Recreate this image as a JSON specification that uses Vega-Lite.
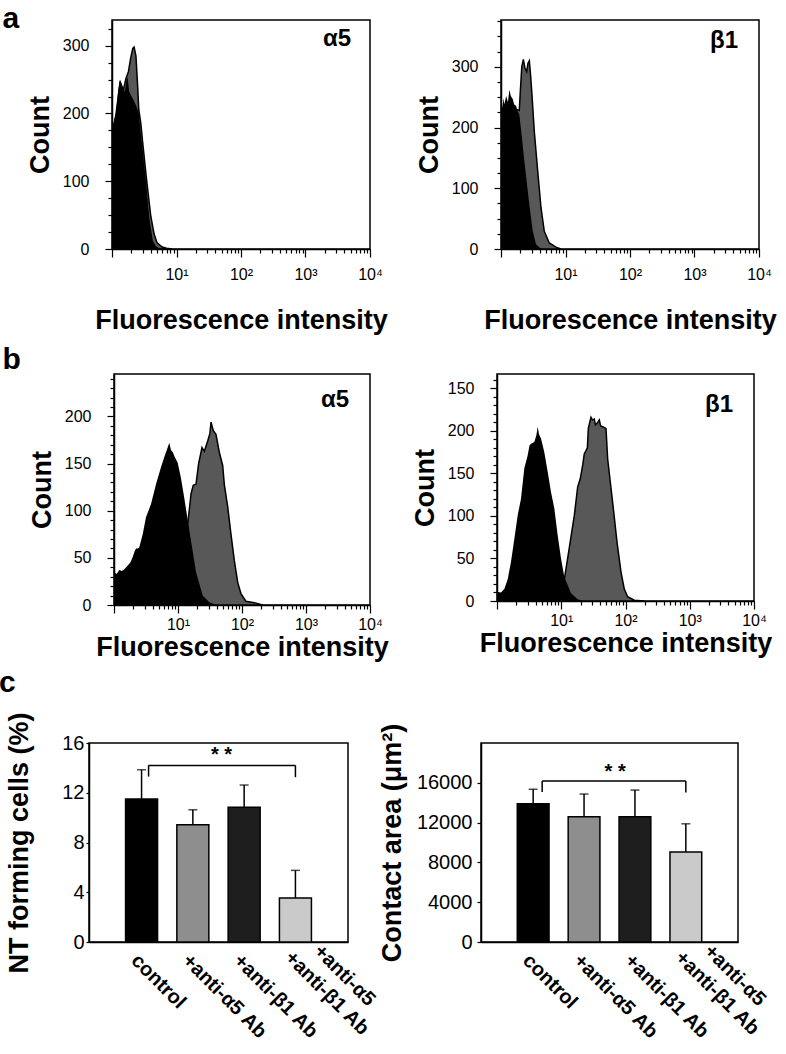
{
  "$schema": "https://vega.github.io/schema/vega-lite/v6.json",
  "background": "white",
  "padding": {"left": -1, "top": 4, "right": 0, "bottom": 0},
  "config": {
    "font": "Liberation Sans",
    "view": {"stroke": "black", "strokeWidth": 1.5},
    "axis": {"domainColor": "black", "tickColor": "black", "labelColor": "black", "titleColor": "black", "grid": false, "domainWidth": 1.5, "tickWidth": 1.2}
  },
  "datasets": {
    "aL": [
      {"s":"c","x":1.0,"n":175},{"s":"c","x":1.08,"n":190},{"s":"c","x":1.15,"n":200},{"s":"c","x":1.25,"n":235},{"s":"c","x":1.33,"n":250},{"s":"c","x":1.42,"n":244},{"s":"c","x":1.5,"n":236},{"s":"c","x":1.58,"n":232},{"s":"c","x":1.68,"n":250},{"s":"c","x":1.75,"n":253},{"s":"c","x":1.85,"n":232},{"s":"c","x":2.0,"n":226},{"s":"c","x":2.2,"n":218},{"s":"c","x":2.4,"n":210},{"s":"c","x":2.6,"n":200},{"s":"c","x":2.8,"n":170},{"s":"c","x":3.0,"n":145},{"s":"c","x":3.4,"n":95},{"s":"c","x":3.8,"n":45},{"s":"c","x":4.3,"n":12},{"s":"c","x":4.8,"n":4},{"s":"c","x":5.5,"n":1},{"s":"c","x":7,"n":0},
      {"s":"ab","x":1.0,"n":170},{"s":"ab","x":1.15,"n":198},{"s":"ab","x":1.33,"n":245},{"s":"ab","x":1.5,"n":235},{"s":"ab","x":1.65,"n":252},{"s":"ab","x":1.8,"n":262},{"s":"ab","x":1.95,"n":282},{"s":"ab","x":2.1,"n":296},{"s":"ab","x":2.2,"n":298},{"s":"ab","x":2.35,"n":285},{"s":"ab","x":2.5,"n":240},{"s":"ab","x":2.6,"n":206},{"s":"ab","x":2.8,"n":185},{"s":"ab","x":3.0,"n":156},{"s":"ab","x":3.4,"n":106},{"s":"ab","x":4.0,"n":48},{"s":"ab","x":4.5,"n":22},{"s":"ab","x":5.0,"n":9},{"s":"ab","x":6.0,"n":3},{"s":"ab","x":7.0,"n":1},{"s":"ab","x":8.5,"n":0}
    ],
    "aR": [
      {"s":"c","x":1.0,"n":245},{"s":"c","x":1.04,"n":232},{"s":"c","x":1.07,"n":240},{"s":"c","x":1.1,"n":248},{"s":"c","x":1.13,"n":238},{"s":"c","x":1.2,"n":252},{"s":"c","x":1.28,"n":242},{"s":"c","x":1.35,"n":262},{"s":"c","x":1.42,"n":252},{"s":"c","x":1.52,"n":247},{"s":"c","x":1.6,"n":238},{"s":"c","x":1.71,"n":236},{"s":"c","x":1.82,"n":226},{"s":"c","x":1.92,"n":222},{"s":"c","x":2.04,"n":198},{"s":"c","x":2.3,"n":145},{"s":"c","x":2.75,"n":73},{"s":"c","x":3.1,"n":30},{"s":"c","x":3.49,"n":8},{"s":"c","x":4.0,"n":2},{"s":"c","x":4.5,"n":0},
      {"s":"ab","x":1.0,"n":230},{"s":"ab","x":1.5,"n":232},{"s":"ab","x":1.92,"n":228},{"s":"ab","x":2.0,"n":262},{"s":"ab","x":2.1,"n":300},{"s":"ab","x":2.22,"n":312},{"s":"ab","x":2.35,"n":298},{"s":"ab","x":2.5,"n":292},{"s":"ab","x":2.62,"n":306},{"s":"ab","x":2.75,"n":310},{"s":"ab","x":2.88,"n":285},{"s":"ab","x":3.02,"n":254},{"s":"ab","x":3.28,"n":194},{"s":"ab","x":3.71,"n":128},{"s":"ab","x":4.17,"n":68},{"s":"ab","x":4.69,"n":29},{"s":"ab","x":5.61,"n":10},{"s":"ab","x":7.12,"n":3},{"s":"ab","x":8.5,"n":0}
    ],
    "bL": [
      {"s":"c","x":1.0,"n":35},{"s":"c","x":1.1,"n":33},{"s":"c","x":1.21,"n":37},{"s":"c","x":1.33,"n":36},{"s":"c","x":1.45,"n":38},{"s":"c","x":1.64,"n":42},{"s":"c","x":1.8,"n":45},{"s":"c","x":1.96,"n":51},{"s":"c","x":2.1,"n":57},{"s":"c","x":2.21,"n":60},{"s":"c","x":2.35,"n":60},{"s":"c","x":2.48,"n":61},{"s":"c","x":2.81,"n":75},{"s":"c","x":3.16,"n":93},{"s":"c","x":3.79,"n":107},{"s":"c","x":4.53,"n":128},{"s":"c","x":5.42,"n":146},{"s":"c","x":6.11,"n":157},{"s":"c","x":6.9,"n":167},{"s":"c","x":7.31,"n":172},{"s":"c","x":7.78,"n":164},{"s":"c","x":8.3,"n":162},{"s":"c","x":8.75,"n":158},{"s":"c","x":9.89,"n":151},{"s":"c","x":11.1,"n":135},{"s":"c","x":12.5,"n":114},{"s":"c","x":14.2,"n":90},{"s":"c","x":16.0,"n":68},{"s":"c","x":19.1,"n":35},{"s":"c","x":24.3,"n":10},{"s":"c","x":30.8,"n":3},{"s":"c","x":40,"n":0},
      {"s":"ab","x":5,"n":0},{"s":"ab","x":8,"n":10},{"s":"ab","x":10,"n":20},{"s":"ab","x":12.5,"n":55},{"s":"ab","x":14.2,"n":86},{"s":"ab","x":16.0,"n":118},{"s":"ab","x":17.3,"n":127},{"s":"ab","x":19.1,"n":128},{"s":"ab","x":21.0,"n":150},{"s":"ab","x":23.7,"n":167},{"s":"ab","x":25.8,"n":163},{"s":"ab","x":29.1,"n":174},{"s":"ab","x":31.5,"n":182},{"s":"ab","x":32.8,"n":194},{"s":"ab","x":35.6,"n":185},{"s":"ab","x":39.2,"n":181},{"s":"ab","x":44.2,"n":162},{"s":"ab","x":49.9,"n":148},{"s":"ab","x":52.9,"n":128},{"s":"ab","x":59.8,"n":104},{"s":"ab","x":67.3,"n":75},{"s":"ab","x":75.9,"n":47},{"s":"ab","x":85.7,"n":24},{"s":"ab","x":96.4,"n":12},{"s":"ab","x":115,"n":4},{"s":"ab","x":166,"n":2},{"s":"ab","x":210,"n":0}
    ],
    "bR": [
      {"s":"c","x":1.0,"n":11},{"s":"c","x":1.15,"n":10},{"s":"c","x":1.3,"n":14},{"s":"c","x":1.47,"n":26},{"s":"c","x":1.65,"n":46},{"s":"c","x":1.86,"n":73},{"s":"c","x":2.1,"n":101},{"s":"c","x":2.36,"n":120},{"s":"c","x":2.66,"n":156},{"s":"c","x":3.0,"n":171},{"s":"c","x":3.2,"n":183},{"s":"c","x":3.38,"n":185},{"s":"c","x":3.81,"n":187},{"s":"c","x":4.1,"n":195},{"s":"c","x":4.3,"n":205},{"s":"c","x":4.5,"n":196},{"s":"c","x":4.84,"n":191},{"s":"c","x":5.45,"n":175},{"s":"c","x":6.15,"n":152},{"s":"c","x":6.93,"n":128},{"s":"c","x":7.8,"n":109},{"s":"c","x":8.81,"n":77},{"s":"c","x":9.91,"n":50},{"s":"c","x":11.2,"n":28},{"s":"c","x":14.2,"n":9},{"s":"c","x":18.0,"n":2},{"s":"c","x":22,"n":0},
      {"s":"ab","x":6,"n":0},{"s":"ab","x":9,"n":10},{"s":"ab","x":11.2,"n":26},{"s":"ab","x":13.3,"n":62},{"s":"ab","x":16.0,"n":101},{"s":"ab","x":18.0,"n":134},{"s":"ab","x":19.8,"n":144},{"s":"ab","x":21.6,"n":160},{"s":"ab","x":22.8,"n":173},{"s":"ab","x":24.3,"n":177},{"s":"ab","x":25.5,"n":180},{"s":"ab","x":26.4,"n":203},{"s":"ab","x":29.0,"n":216},{"s":"ab","x":30.5,"n":213},{"s":"ab","x":32.7,"n":214},{"s":"ab","x":34,"n":207},{"s":"ab","x":36.0,"n":209},{"s":"ab","x":39.1,"n":213},{"s":"ab","x":41,"n":206},{"s":"ab","x":44.2,"n":205},{"s":"ab","x":49.7,"n":203},{"s":"ab","x":52.8,"n":167},{"s":"ab","x":58.0,"n":140},{"s":"ab","x":65.5,"n":105},{"s":"ab","x":73.8,"n":69},{"s":"ab","x":85.1,"n":34},{"s":"ab","x":95.8,"n":14},{"s":"ab","x":108,"n":5},{"s":"ab","x":137,"n":1},{"s":"ab","x":195,"n":0}
    ],
    "cL": [
      {"g":"control","v":11.5,"e":13.85},{"g":"+anti-α5 Ab","v":9.43,"e":10.63},{"g":"+anti-β1 Ab","v":10.83,"e":12.62},{"g":"+anti-α5|+anti-β1 Ab","v":3.54,"e":5.76}
    ],
    "cR": [
      {"g":"control","v":13900,"e":15350},{"g":"+anti-α5 Ab","v":12600,"e":14870},{"g":"+anti-β1 Ab","v":12600,"e":15270},{"g":"+anti-α5|+anti-β1 Ab","v":9050,"e":11880}
    ],
    "kL": [{"g":"control","g2":"+anti-α5|+anti-β1 Ab","y":14.2,"y0":13.3,"yr":13.25,"ys":15.0}],
    "kR": [{"g":"control","g2":"+anti-α5|+anti-β1 Ab","y":16180,"y0":15080,"yr":15020,"ys":17090}]
  },
  "concat": [
    {
      "concat": [
        {
          "title": {"text": "a", "anchor": "start", "frame": "bounds", "fontSize": 30, "fontWeight": "bold", "dx": -23, "offset": -22, "color": "black"},
          "bounds": "flush",
          "spacing": 22,
          "hconcat": [
            {"width": 1, "height": 1, "view": {"stroke": null}, "data": {"values": [{}]}, "mark": {"type": "text", "text": ""}},
            {
              "bounds": "flush",
              "spacing": 131,
              "hconcat": [
                {
                  "width": 258, "height": 229,
                  "encoding": {
                    "x": {"field": "x", "type": "quantitative", "scale": {"type": "log", "domain": [1, 10000]},
                      "axis": {"values": [1,2,3,4,5,6,7,8,9,10,20,30,40,50,60,70,80,90,100,200,300,400,500,600,700,800,900,1000,2000,3000,4000,5000,6000,7000,8000,9000,10000],
                        "labelExpr": "datum.value == 10 ? '10¹' : datum.value == 100 ? '10²' : datum.value == 1000 ? '10³' : datum.value == 10000 ? '10⁴' : ''",
                        "tickSize": {"condition": {"test": "datum.value == 1 || datum.value == 10 || datum.value == 100 || datum.value == 1000 || datum.value == 10000", "value": 8}, "value": 4},
                        "labelFontSize": 16, "labelPadding": 9, "labelOverlap": false, "labelFlush": false, "labelBound": false,
                        "title": "Fluorescence intensity", "titleFontSize": 27, "titleFontWeight": "bold", "titlePadding": 25}},
                    "y": {"field": "n", "type": "quantitative", "scale": {"domain": [0, 338]},
                      "axis": {"values": [0,25,50,75,100,125,150,175,200,225,250,275,300,325],
                        "labelExpr": "datum.value % 100 == 0 ? datum.label : ''",
                        "tickSize": {"condition": {"test": "datum.value % 100 == 0", "value": 7}, "value": 4},
                        "labelFontSize": 16, "labelPadding": 16, "labelOverlap": false,
                        "title": "Count", "titleFontSize": 27, "titleFontWeight": "bold", "titlePadding": 8}}
                  },
                  "layer": [
                    {"data": {"name": "aL"}, "transform": [{"filter": "datum.s == 'ab'"}], "mark": {"type": "area", "fill": "#585858", "stroke": "black", "strokeWidth": 1.5, "clip": true}},
                    {"data": {"name": "aL"}, "transform": [{"filter": "datum.s == 'c'"}], "mark": {"type": "area", "fill": "black", "clip": true}},
                    {"data": {"values": [{"t": "α5", "x": 10000, "n": 338}]}, "mark": {"type": "text", "align": "right", "baseline": "top", "fontSize": 24, "fontWeight": "bold", "dx": -19, "dy": 7},
                      "encoding": {"text": {"field": "t"}}}
                  ]
                },
                {
                  "width": 258, "height": 229,
                  "encoding": {
                    "x": {"field": "x", "type": "quantitative", "scale": {"type": "log", "domain": [1, 10000]},
                      "axis": {"values": [1,2,3,4,5,6,7,8,9,10,20,30,40,50,60,70,80,90,100,200,300,400,500,600,700,800,900,1000,2000,3000,4000,5000,6000,7000,8000,9000,10000],
                        "labelExpr": "datum.value == 10 ? '10¹' : datum.value == 100 ? '10²' : datum.value == 1000 ? '10³' : datum.value == 10000 ? '10⁴' : ''",
                        "tickSize": {"condition": {"test": "datum.value == 1 || datum.value == 10 || datum.value == 100 || datum.value == 1000 || datum.value == 10000", "value": 8}, "value": 4},
                        "labelFontSize": 16, "labelPadding": 9, "labelOverlap": false, "labelFlush": false, "labelBound": false,
                        "title": "Fluorescence intensity", "titleFontSize": 27, "titleFontWeight": "bold", "titlePadding": 25}},
                    "y": {"field": "n", "type": "quantitative", "scale": {"domain": [0, 377]},
                      "axis": {"values": [0,25,50,75,100,125,150,175,200,225,250,275,300,325,350,375],
                        "labelExpr": "datum.value % 100 == 0 ? datum.label : ''",
                        "tickSize": {"condition": {"test": "datum.value % 100 == 0", "value": 7}, "value": 4},
                        "labelFontSize": 16, "labelPadding": 16, "labelOverlap": false,
                        "title": "Count", "titleFontSize": 27, "titleFontWeight": "bold", "titlePadding": 8}}
                  },
                  "layer": [
                    {"data": {"name": "aR"}, "transform": [{"filter": "datum.s == 'ab'"}], "mark": {"type": "area", "fill": "#585858", "stroke": "black", "strokeWidth": 1.5, "clip": true}},
                    {"data": {"name": "aR"}, "transform": [{"filter": "datum.s == 'c'"}], "mark": {"type": "area", "fill": "black", "clip": true}},
                    {"data": {"values": [{"t": "β1", "x": 10000, "n": 377}]}, "mark": {"type": "text", "align": "right", "baseline": "top", "fontSize": 24, "fontWeight": "bold", "dx": -21, "dy": 9},
                      "encoding": {"text": {"field": "t"}}}
                  ]
                }
              ]
            }
          ]
        },
        {
          "title": {"text": "b", "anchor": "start", "frame": "bounds", "fontSize": 30, "fontWeight": "bold", "dx": -25, "offset": -6, "color": "black"},
          "bounds": "flush",
          "spacing": 24,
          "hconcat": [
            {"width": 1, "height": 1, "view": {"stroke": null}, "data": {"values": [{}]}, "mark": {"type": "text", "text": ""}},
            {
              "bounds": "flush",
              "spacing": 127,
              "hconcat": [
                {
                  "width": 256, "height": 231,
                  "encoding": {
                    "x": {"field": "x", "type": "quantitative", "scale": {"type": "log", "domain": [1, 10000]},
                      "axis": {"values": [1,2,3,4,5,6,7,8,9,10,20,30,40,50,60,70,80,90,100,200,300,400,500,600,700,800,900,1000,2000,3000,4000,5000,6000,7000,8000,9000,10000],
                        "labelExpr": "datum.value == 10 ? '10¹' : datum.value == 100 ? '10²' : datum.value == 1000 ? '10³' : datum.value == 10000 ? '10⁴' : ''",
                        "tickSize": {"condition": {"test": "datum.value == 1 || datum.value == 10 || datum.value == 100 || datum.value == 1000 || datum.value == 10000", "value": 8}, "value": 4},
                        "labelFontSize": 16, "labelPadding": 3, "labelOverlap": false, "labelFlush": false, "labelBound": false,
                        "title": "Fluorescence intensity", "titleFontSize": 27, "titleFontWeight": "bold", "titlePadding": 2}},
                    "y": {"field": "n", "type": "quantitative", "scale": {"domain": [0, 245]},
                      "axis": {"values": [0,10,20,30,40,50,60,70,80,90,100,110,120,130,140,150,160,170,180,190,200,210,220,230,240],
                        "labelExpr": "datum.value % 50 == 0 ? datum.label : ''",
                        "tickSize": {"condition": {"test": "datum.value % 50 == 0", "value": 7}, "value": 4},
                        "labelFontSize": 16, "labelPadding": 16, "labelOverlap": false,
                        "title": "Count", "titleFontSize": 27, "titleFontWeight": "bold", "titlePadding": 8}}
                  },
                  "layer": [
                    {"data": {"name": "bL"}, "transform": [{"filter": "datum.s == 'ab'"}], "mark": {"type": "area", "fill": "#585858", "stroke": "black", "strokeWidth": 1.5, "clip": true}},
                    {"data": {"name": "bL"}, "transform": [{"filter": "datum.s == 'c'"}], "mark": {"type": "area", "fill": "black", "clip": true}},
                    {"data": {"values": [{"t": "α5", "x": 10000, "n": 245}]}, "mark": {"type": "text", "align": "right", "baseline": "top", "fontSize": 24, "fontWeight": "bold", "dx": -21, "dy": 14},
                      "encoding": {"text": {"field": "t"}}}
                  ]
                },
                {
                  "width": 257, "height": 227,
                  "encoding": {
                    "x": {"field": "x", "type": "quantitative", "scale": {"type": "log", "domain": [1, 10000]},
                      "axis": {"values": [1,2,3,4,5,6,7,8,9,10,20,30,40,50,60,70,80,90,100,200,300,400,500,600,700,800,900,1000,2000,3000,4000,5000,6000,7000,8000,9000,10000],
                        "labelExpr": "datum.value == 10 ? '10¹' : datum.value == 100 ? '10²' : datum.value == 1000 ? '10³' : datum.value == 10000 ? '10⁴' : ''",
                        "tickSize": {"condition": {"test": "datum.value == 1 || datum.value == 10 || datum.value == 100 || datum.value == 1000 || datum.value == 10000", "value": 8}, "value": 4},
                        "labelFontSize": 16, "labelPadding": 3, "labelOverlap": false, "labelFlush": false, "labelBound": false,
                        "title": "Fluorescence intensity", "titleFontSize": 27, "titleFontWeight": "bold", "titlePadding": 2}},
                    "y": {"field": "n", "type": "quantitative", "scale": {"domain": [0, 267]},
                      "axis": {"values": [0,10,20,30,40,50,60,70,80,90,100,110,120,130,140,150,160,170,180,190,200,210,220,230,240,250,260],
                        "labelExpr": "datum.value == 250 ? '150' : datum.value % 50 == 0 ? datum.label : ''",
                        "tickSize": {"condition": {"test": "datum.value % 50 == 0", "value": 7}, "value": 4},
                        "labelFontSize": 16, "labelPadding": 16, "labelOverlap": false,
                        "title": "Count", "titleFontSize": 27, "titleFontWeight": "bold", "titlePadding": 8}}
                  },
                  "layer": [
                    {"data": {"name": "bR"}, "transform": [{"filter": "datum.s == 'ab'"}], "mark": {"type": "area", "fill": "#585858", "stroke": "black", "strokeWidth": 1.5, "clip": true}},
                    {"data": {"name": "bR"}, "transform": [{"filter": "datum.s == 'c'"}], "mark": {"type": "area", "fill": "black", "clip": true}},
                    {"data": {"values": [{"t": "β1", "x": 10000, "n": 267}]}, "mark": {"type": "text", "align": "right", "baseline": "top", "fontSize": 24, "fontWeight": "bold", "dx": -21, "dy": 19},
                      "encoding": {"text": {"field": "t"}}}
                  ]
                }
              ]
            }
          ]
        }
      ],
      "columns": 1,
      "align": "none",
      "spacing": 10
    },
    {
      "title": {"text": "c", "anchor": "start", "frame": "bounds", "fontSize": 30, "fontWeight": "bold", "dx": -6, "offset": 13, "color": "black"},
      "bounds": "flush",
      "spacing": 133,
      "hconcat": [
        {
          "width": 259, "height": 199,
          "encoding": {
            "x": {"field": "g", "type": "nominal", "sort": null,
              "scale": {"domain": ["control","+anti-α5 Ab","+anti-β1 Ab","+anti-α5|+anti-β1 Ab"], "paddingInner": 0.376, "paddingOuter": 0.713},
              "axis": {"title": null, "labelAngle": 45,
                "labelAlign": {"condition": {"test": "indexof(datum.value, '|') >= 0", "value": "center"}, "value": "left"},
                "labelBaseline": {"condition": {"test": "indexof(datum.value, '|') >= 0", "value": "bottom"}, "value": "top"},
                "labelPadding": {"condition": {"test": "indexof(datum.value, '|') >= 0", "value": 40}, "value": 8},
                "labelOffset": {"condition": {"test": "indexof(datum.value, '|') >= 0", "value": 42}, "value": 0},
                "labelLineHeight": 25,
                "labelFontSize": 20, "labelFontWeight": "bold", "ticks": false, "labelExpr": "split(datum.label, '|')", "labelLimit": 0}}
          },
          "layer": [
            {"data": {"name": "cL"}, "mark": {"type": "rule", "color": "black", "strokeWidth": 1.5},
              "encoding": {"y": {"field": "v", "type": "quantitative", "scale": {"domain": [0, 16]},
                "axis": {"values": [0,4,8,12,16], "labelFontSize": 20, "tickSize": 3, "labelPadding": 2, "title": "NT forming cells (%)", "titleFontSize": 27, "titleFontWeight": "bold", "titlePadding": 28}},
                "y2": {"field": "e"}}},
            {"data": {"name": "cL"}, "mark": {"type": "tick", "color": "black", "thickness": 1.5, "size": 9},
              "encoding": {"y": {"field": "e", "type": "quantitative", "title": "NT forming cells (%)"}}},
            {"data": {"name": "cL"}, "mark": {"type": "bar", "stroke": "black", "strokeWidth": 1.5},
              "encoding": {"y": {"field": "v", "type": "quantitative", "title": "NT forming cells (%)"},
                "color": {"field": "g", "type": "nominal", "scale": {"domain": ["control","+anti-α5 Ab","+anti-β1 Ab","+anti-α5|+anti-β1 Ab"], "range": ["#000000","#8e8e8e","#1e1e1e","#cacaca"]}, "legend": null}}},
            {"data": {"name": "kL"}, "mark": {"type": "rule", "color": "black", "strokeWidth": 1.5, "xOffset": 7},
              "encoding": {"x2": {"field": "g2"}, "y": {"field": "y", "type": "quantitative", "title": "NT forming cells (%)"}}},
            {"data": {"name": "kL"}, "mark": {"type": "rule", "color": "black", "strokeWidth": 1.5, "xOffset": 7},
              "encoding": {"y": {"field": "y0", "type": "quantitative", "title": "NT forming cells (%)"}, "y2": {"field": "y"}}},
            {"data": {"name": "kL"}, "mark": {"type": "rule", "color": "black", "strokeWidth": 1.5},
              "encoding": {"x": {"field": "g2", "type": "nominal"}, "y": {"field": "yr", "type": "quantitative", "title": "NT forming cells (%)"}, "y2": {"field": "y"}}},
            {"data": {"name": "kL"}, "mark": {"type": "text", "text": "* *", "fontSize": 20, "fontWeight": "bold", "baseline": "middle", "dx": 80},
              "encoding": {"y": {"field": "ys", "type": "quantitative", "title": "NT forming cells (%)"}}}
          ]
        },
        {
          "width": 257, "height": 199,
          "encoding": {
            "x": {"field": "g", "type": "nominal", "sort": null,
              "scale": {"domain": ["control","+anti-α5 Ab","+anti-β1 Ab","+anti-α5|+anti-β1 Ab"], "paddingInner": 0.376, "paddingOuter": 0.713},
              "axis": {"title": null, "labelAngle": 45,
                "labelAlign": {"condition": {"test": "indexof(datum.value, '|') >= 0", "value": "center"}, "value": "left"},
                "labelBaseline": {"condition": {"test": "indexof(datum.value, '|') >= 0", "value": "bottom"}, "value": "top"},
                "labelPadding": {"condition": {"test": "indexof(datum.value, '|') >= 0", "value": 40}, "value": 8},
                "labelOffset": {"condition": {"test": "indexof(datum.value, '|') >= 0", "value": 42}, "value": 0},
                "labelLineHeight": 25,
                "labelFontSize": 20, "labelFontWeight": "bold", "ticks": false, "labelExpr": "split(datum.label, '|')", "labelLimit": 0}}
          },
          "layer": [
            {"data": {"name": "cR"}, "mark": {"type": "rule", "color": "black", "strokeWidth": 1.5},
              "encoding": {"y": {"field": "v", "type": "quantitative", "scale": {"domain": [0, 18200]},
                "axis": {"values": [0,4000,8000,12000,16000], "format": "d", "labelFontSize": 20, "tickSize": 4, "labelPadding": 5, "title": "Contact area (μm²)", "titleFontSize": 27, "titleFontWeight": "bold", "titlePadding": 10}},
                "y2": {"field": "e"}}},
            {"data": {"name": "cR"}, "mark": {"type": "tick", "color": "black", "thickness": 1.5, "size": 9},
              "encoding": {"y": {"field": "e", "type": "quantitative", "title": "Contact area (μm²)"}}},
            {"data": {"name": "cR"}, "mark": {"type": "bar", "stroke": "black", "strokeWidth": 1.5},
              "encoding": {"y": {"field": "v", "type": "quantitative", "title": "Contact area (μm²)"},
                "color": {"field": "g", "type": "nominal", "scale": {"domain": ["control","+anti-α5 Ab","+anti-β1 Ab","+anti-α5|+anti-β1 Ab"], "range": ["#000000","#8e8e8e","#1e1e1e","#cacaca"]}, "legend": null}}},
            {"data": {"name": "kR"}, "mark": {"type": "rule", "color": "black", "strokeWidth": 1.5, "xOffset": 9},
              "encoding": {"x2": {"field": "g2"}, "y": {"field": "y", "type": "quantitative", "title": "Contact area (μm²)"}}},
            {"data": {"name": "kR"}, "mark": {"type": "rule", "color": "black", "strokeWidth": 1.5, "xOffset": 9},
              "encoding": {"y": {"field": "y0", "type": "quantitative", "title": "Contact area (μm²)"}, "y2": {"field": "y"}}},
            {"data": {"name": "kR"}, "mark": {"type": "rule", "color": "black", "strokeWidth": 1.5},
              "encoding": {"x": {"field": "g2", "type": "nominal"}, "y": {"field": "yr", "type": "quantitative", "title": "Contact area (μm²)"}, "y2": {"field": "y"}}},
            {"data": {"name": "kR"}, "mark": {"type": "text", "text": "* *", "fontSize": 20, "fontWeight": "bold", "baseline": "middle", "dx": 82},
              "encoding": {"y": {"field": "ys", "type": "quantitative", "title": "Contact area (μm²)"}}}
          ]
        }
      ]
    }
  ],
  "columns": 1,
  "align": "none",
  "spacing": 7
}
